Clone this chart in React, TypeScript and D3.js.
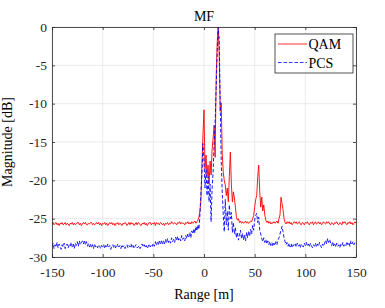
import * as d3 from "d3";
import { useEffect, useRef } from "react";

// range axis samples [m]
const rangeM = d3.range(-150, 151, 1);

// matched filter output, QAM [dB]
const qamDb = [
  -25.7, -25.5, -25.8, -25.6, -25.5, -25.8, -25.6, -25.9, -25.6, -25.7,
  -25.5, -25.8, -25.7, -25.5, -25.8, -25.6, -25.7, -25.9, -25.6, -25.7,
  -25.5, -25.8, -25.6, -25.8, -25.7, -25.5, -25.5, -25.8, -25.6, -25.9,
  -25.7, -25.5, -25.7, -25.5, -25.8, -25.8, -25.6, -25.7, -25.5, -25.5,
  -25.8, -25.6, -25.8, -25.7, -25.5, -25.7, -25.5, -25.8, -25.6, -25.9,
  -25.6, -25.7, -25.5, -25.8, -25.6, -25.9, -25.7, -25.5, -25.7, -25.5,
  -25.8, -25.6, -25.9, -25.6, -25.7, -25.5, -25.8, -25.6, -25.7, -25.9,
  -25.6, -25.7, -25.5, -25.6, -25.9, -25.7, -25.5, -25.8, -25.5, -25.7,
  -25.6, -25.9, -25.7, -25.5, -25.8, -25.5, -25.6, -25.8, -25.9, -25.6,
  -25.7, -25.5, -25.8, -25.6, -25.9, -25.7, -25.5, -25.5, -25.8, -25.6,
  -25.7, -25.5, -25.9, -25.5, -25.7, -25.6, -25.8, -25.5, -25.6, -25.8,
  -25.6, -25.9, -25.6, -25.7, -25.5, -25.8, -25.6, -25.7, -25.4, -25.6,
  -25.7, -25.5, -25.6, -25.8, -25.5, -25.6, -25.4, -25.7, -25.5, -25.6,
  -25.6, -25.8, -25.5, -25.6, -25.4, -25.7, -25.5, -25.7, -25.4, -25.6,
  -25.5, -25.3, -25.6, -25.4, -25.2, -24.8, -24.0, -22.5, -17.8, -14.0,
  -10.8, -18.5, -16.7, -19.5, -18.0, -20.5, -17.5, -19.3, -16.0, -14.5,
  -12.8, -17.0, -6.5, -2.1, 0, -3.5, -11.0, -9.9, -16.5, -19.0,
  -20.0, -20.6, -22.0, -21.0, -22.8, -19.5, -16.3, -20.5, -22.8, -21.5,
  -22.3, -23.5, -24.8, -25.2, -25.0, -25.5, -25.3, -25.6, -25.4, -25.6,
  -25.5, -25.3, -25.6, -25.4, -25.6, -25.5, -25.3, -25.4, -25.0, -24.6,
  -23.5, -22.5, -22.0, -19.5, -18.0, -21.5, -23.5, -22.2, -24.0, -23.2,
  -24.5, -25.2, -25.5, -25.3, -25.6, -25.4, -25.7, -25.5, -25.6, -25.4,
  -25.6, -25.5, -25.3, -25.6, -25.0, -24.5, -22.2, -23.0, -23.8, -25.0,
  -25.5, -25.7, -25.4, -25.6, -25.4, -25.7, -25.5, -25.8, -25.6, -25.4,
  -25.6, -25.4, -25.7, -25.6, -25.4, -25.7, -25.8, -25.5, -25.6, -25.8,
  -25.5, -25.6, -25.4, -25.7, -25.8, -25.5, -25.6, -25.4, -25.8, -25.6,
  -25.4, -25.7, -25.6, -25.4, -25.7, -25.5, -25.8, -25.6, -25.4, -25.6,
  -25.7, -25.4, -25.6, -25.4, -25.7, -25.8, -25.5, -25.6, -25.8, -25.5,
  -25.6, -25.4, -25.7, -25.8, -25.5, -25.6, -25.8, -25.4, -25.6, -25.4,
  -25.6, -25.8, -25.5, -25.6, -25.4, -25.7, -25.5, -25.8, -25.6, -25.4,
  -25.6,
];

// matched filter output, PCS [dB]
const pcsDb = [
  -28.6, -28.2, -28.9, -28.4, -28.7, -28.1, -28.8, -28.3, -28.6, -29.0,
  -28.4, -28.7, -28.2, -28.9, -28.5, -28.3, -28.8, -28.4, -28.6, -28.1,
  -28.7, -28.3, -28.9, -28.2, -28.5, -28.0, -28.6, -27.9, -28.4, -28.1,
  -27.9, -28.3, -27.8, -28.4, -28.0, -28.6, -28.2, -28.7, -28.3, -28.8,
  -28.4, -28.9, -28.3, -28.7, -28.5, -28.8, -28.4, -28.6, -28.9, -28.5,
  -28.7, -28.4, -28.9, -28.5, -28.8, -28.3, -28.7, -28.5, -29.0, -28.6,
  -28.4, -28.8, -28.5, -28.9, -28.6, -28.3, -28.7, -28.5, -28.9, -28.4,
  -28.7, -28.5, -28.9, -28.6, -28.4, -28.8, -28.5, -28.7, -28.3, -28.8,
  -28.5, -28.9, -28.6, -28.4, -28.8, -28.7, -28.5, -28.9, -28.6, -28.3,
  -28.7, -28.4, -28.8, -28.5, -28.9, -28.6, -28.3, -28.7, -28.4, -28.6,
  -28.2, -28.6, -28.0, -28.5, -28.1, -28.4, -27.8, -28.3, -27.9, -28.4,
  -27.9, -28.3, -27.7, -28.2, -27.6, -28.1, -27.8, -28.2, -27.5, -28.0,
  -27.7, -28.1, -27.4, -27.9, -27.3, -27.8, -27.5, -27.9, -27.2, -27.7,
  -27.5, -27.9, -27.2, -27.6, -27.0, -27.4, -26.8, -27.5, -26.6, -27.0,
  -26.3, -26.9, -26.0, -26.6, -25.8, -26.4, -24.5, -21.5, -19.0, -15.2,
  -17.5, -21.0, -18.5, -22.0, -19.5, -22.8, -20.5, -25.4, -21.0, -18.9,
  -15.0, -12.4, -8.0, -3.5, 0, -1.5, -10.0, -17.6, -21.5, -24.5,
  -26.7, -22.5, -25.8, -24.0, -26.5, -23.2, -25.0, -24.2, -26.8, -25.5,
  -27.0, -26.2, -27.5, -26.8, -27.8, -27.2, -26.5, -27.6, -26.9, -27.8,
  -27.1, -27.9, -26.8, -27.5, -26.6, -27.3, -26.4, -27.0, -25.9, -26.5,
  -25.2, -24.6, -24.3, -25.5, -24.8, -26.5, -27.0, -27.6, -28.0, -27.5,
  -28.1, -27.7, -28.3, -27.9, -28.4, -28.0, -28.5, -28.1, -28.6, -28.2,
  -28.5, -28.0, -28.4, -27.8, -27.5, -27.0, -26.5, -26.0, -26.7, -27.5,
  -28.0, -28.4, -28.1, -28.6, -28.2, -28.7, -28.3, -28.8, -28.4, -28.6,
  -28.3, -28.7, -28.2, -28.6, -28.4, -28.8, -28.3, -28.5, -28.7, -28.2,
  -28.5, -28.1, -28.6, -28.3, -28.7, -28.2, -28.5, -28.8, -28.4, -28.6,
  -28.2, -28.7, -28.3, -28.6, -28.1, -28.5, -28.8, -28.3, -28.6, -28.2,
  -27.8, -28.3, -27.6, -28.1, -27.7, -28.2, -28.5, -28.0, -28.6, -28.3,
  -28.7, -28.2, -28.6, -28.4, -28.8, -28.3, -28.5, -28.1, -28.6, -28.3,
  -28.5, -28.0, -28.4, -28.1, -28.6, -27.9, -28.3, -28.0, -28.4, -28.1,
  -28.3,
];

const xTicks = [-150, -100, -50, 0, 50, 100, 150];
const yTicks = [-30, -25, -20, -15, -10, -5, 0];
const seriesNames = ["QAM", "PCS"];

const W = 385;
const H = 308;
const FONT = '"Liberation Serif", "Times New Roman", serif';
const AX = "#262626";

export default function App() {
  const ref = useRef<SVGSVGElement>(null);

  useEffect(() => {
    const svg = d3.select(ref.current);
    svg.selectAll("*").remove();

    const left = 52, right = 356, top = 27, bottom = 257;
    const x = d3.scaleLinear().domain([-150, 150]).range([left, right]);
    const y = d3.scaleLinear().domain([-30, 0]).range([bottom, top]);

    svg.append("rect").attr("width", W).attr("height", H).attr("fill", "#fff");

    // grid
    const grid = svg.append("g").attr("stroke", "#e3e3e3").attr("stroke-width", 0.7);
    xTicks.forEach((t) => {
      grid.append("line").attr("x1", x(t)).attr("x2", x(t)).attr("y1", top).attr("y2", bottom);
    });
    yTicks.forEach((t) => {
      grid.append("line").attr("x1", left).attr("x2", right).attr("y1", y(t)).attr("y2", y(t));
    });

    // data
    svg
      .append("clipPath")
      .attr("id", "plotclip")
      .append("rect")
      .attr("x", left)
      .attr("y", top - 1)
      .attr("width", right - left)
      .attr("height", bottom - top + 1);

    const line = d3
      .line<number>()
      .x((_, i) => x(rangeM[i]))
      .y((d) => y(d));

    const plot = svg.append("g").attr("clip-path", "url(#plotclip)");
    plot
      .append("path")
      .datum(qamDb)
      .attr("fill", "none")
      .attr("stroke", "#ff0000")
      .attr("stroke-width", 0.9)
      .attr("d", line as any);
    plot
      .append("path")
      .datum(pcsDb)
      .attr("fill", "none")
      .attr("stroke", "#0000ff")
      .attr("stroke-width", 0.9)
      .attr("stroke-dasharray", "3.5,2")
      .attr("d", line as any);

    // axes (MATLAB box with inward ticks)
    const fmt = (d: any) => String(d);
    const styleAxis = (g: any) => {
      g.attr("font-family", null).attr("font-size", null);
      g.style("font-family", FONT).style("font-size", "13.5px");
      g.selectAll("path").attr("stroke", AX).attr("stroke-width", 0.8);
      g.selectAll("line").attr("stroke", AX).attr("stroke-width", 0.8);
      g.selectAll("text").attr("fill", "#262626");
    };

    svg
      .append("g")
      .attr("transform", `translate(0,${bottom})`)
      .call(d3.axisBottom(x).tickValues(xTicks).tickSize(-3).tickSizeOuter(0).tickPadding(10).tickFormat(fmt))
      .call(styleAxis);
    svg
      .append("g")
      .attr("transform", `translate(0,${top})`)
      .call(d3.axisTop(x).tickValues(xTicks).tickSize(-3).tickSizeOuter(0).tickFormat(() => ""))
      .call(styleAxis);
    svg
      .append("g")
      .attr("transform", `translate(${left},0)`)
      .call(d3.axisLeft(y).tickValues(yTicks).tickSize(-3).tickSizeOuter(0).tickPadding(5).tickFormat(fmt))
      .call(styleAxis);
    svg
      .append("g")
      .attr("transform", `translate(${right},0)`)
      .call(d3.axisRight(y).tickValues(yTicks).tickSize(-3).tickSizeOuter(0).tickFormat(() => ""))
      .call(styleAxis);

    // labels
    const label = (t: any) => t.style("font-family", FONT).style("font-size", "14px").attr("fill", "#000");
    svg
      .append("text")
      .attr("x", (left + right) / 2)
      .attr("y", 21)
      .attr("text-anchor", "middle")
      .call(label)
      .text("MF");
    svg
      .append("text")
      .attr("x", (left + right) / 2)
      .attr("y", 299)
      .attr("text-anchor", "middle")
      .call(label)
      .text("Range [m]");
    svg
      .append("text")
      .attr("transform", `translate(12,${(top + bottom) / 2}) rotate(-90)`)
      .attr("text-anchor", "middle")
      .call(label)
      .text("Magnitude [dB]");

    // legend
    const lg = svg.append("g");
    lg.append("rect")
      .attr("x", 275)
      .attr("y", 34)
      .attr("width", 78)
      .attr("height", 39)
      .attr("fill", "#fff")
      .attr("stroke", AX)
      .attr("stroke-width", 0.8);
    const colors = ["#ff0000", "#0000ff"];
    const dashes = [null, "3.5,2"];
    seriesNames.forEach((name, i) => {
      const ly = 44 + i * 18.5;
      lg.append("line")
        .attr("x1", 278)
        .attr("x2", 307)
        .attr("y1", ly)
        .attr("y2", ly)
        .attr("stroke", colors[i])
        .attr("stroke-width", 0.8)
        .attr("stroke-dasharray", dashes[i]);
      lg.append("text")
        .attr("x", 308.5)
        .attr("y", ly + 5)
        .call(label)
        .text(name);
    });
  }, []);

  return (
    <svg
      ref={ref}
      width={W}
      height={H}
      style={{ position: "absolute", left: 0, top: 0, display: "block" }}
    />
  );
}
